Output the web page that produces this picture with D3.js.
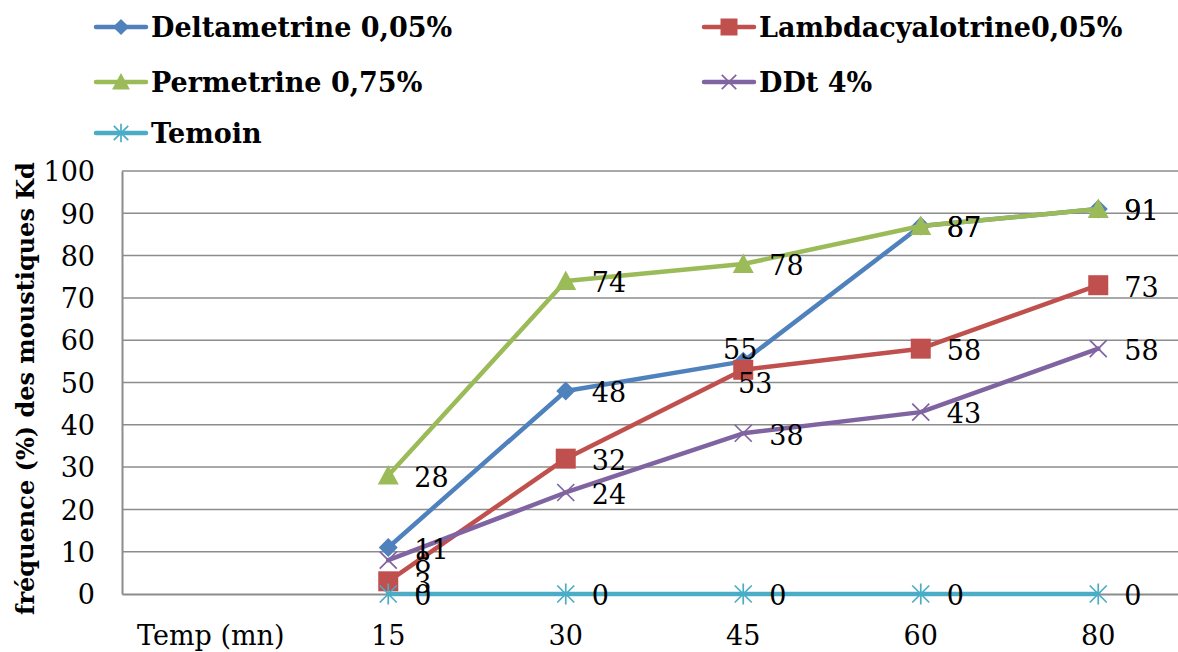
<!DOCTYPE html>
<html>
<head>
<meta charset="utf-8">
<script src="https://cdn.jsdelivr.net/npm/d3@7"></script>
<style>
  html, body { margin: 0; padding: 0; background: #fff; }
  svg { display: block; }
</style>
</head>
<body>
<svg id="chart" width="1178" height="652"></svg>
<script>
// Time points (minutes); the first category slot carries the axis caption
const axisCaption = "Temp (mn)";
const times = ["15", "30", "45", "60", "80"];
const yTicks = [0, 10, 20, 30, 40, 50, 60, 70, 80, 90, 100];

// Knock-down frequency (%) per insecticide
const deltametrine = [11, 48, 55, 87, 91];
const lambdacyalotrine = [3, 32, 53, 58, 73];
const permetrine = [28, 74, 78, 87, 91];
const ddt = [8, 24, 38, 43, 58];
const temoin = [0, 0, 0, 0, 0];

const seriesNames = ["Deltametrine 0,05%", "Lambdacyalotrine0,05%", "Permetrine 0,75%", "DDt 4%", "Temoin"];
const seriesValues = [deltametrine, lambdacyalotrine, permetrine, ddt, temoin];
const seriesColors = ["#4F81BD", "#C0504D", "#9BBB59", "#8064A2", "#4BACC6"];
const seriesMarkers = ["diamond", "square", "triangle", "x", "star"];
// data label placement per point
const labelPlacement = [
  ["right", "right", "above", "right", "right"],
  ["right", "right", "below", "right", "right"],
  ["right", "right", "right", "right", "right"],
  ["right", "right", "right", "right", "right"],
  ["right", "right", "right", "right", "right"]
];

const svg = d3.select("#chart");
const serif = "'DejaVu Serif', serif";
const fontSize = 27;

const plot = { left: 122, right: 1187, top: 171, bottom: 594 };

const x = d3.scaleBand()
  .domain([axisCaption, ...times])
  .range([plot.left, plot.right])
  .paddingInner(0).paddingOuter(0);
const cx = c => x(c) + x.bandwidth() / 2;

const y = d3.scaleLinear().domain([0, 100]).range([plot.bottom, plot.top]);

// gridlines
svg.append("g")
  .selectAll("line")
  .data(yTicks.filter(t => t > 0))
  .join("line")
  .attr("x1", plot.left).attr("x2", plot.right)
  .attr("y1", d => y(d)).attr("y2", d => y(d))
  .attr("stroke", "#8c8c8c").attr("stroke-width", 1.5);

// y axis
const yAxis = svg.append("g")
  .attr("transform", `translate(${plot.left},0)`)
  .call(d3.axisLeft(y).tickValues(yTicks).tickSize(0).tickPadding(27));
yAxis.select(".domain").attr("stroke", "#8c8c8c").attr("stroke-width", 2);
yAxis.selectAll("text")
  .attr("font-family", serif).attr("font-size", fontSize).attr("fill", "#000")
  .attr("dy", "0.36em");

// x axis
const xAxis = svg.append("g")
  .attr("transform", `translate(0,${plot.bottom})`)
  .call(d3.axisBottom(x).tickSize(0).tickPadding(32));
xAxis.select(".domain").attr("stroke", "#8c8c8c").attr("stroke-width", 2);
xAxis.selectAll("text")
  .attr("font-family", serif).attr("font-size", fontSize).attr("fill", "#000");

// y axis title
svg.append("text")
  .attr("transform", `translate(34,${(plot.top + plot.bottom) / 2 + 6}) rotate(-90)`)
  .attr("text-anchor", "middle")
  .attr("font-family", serif).attr("font-weight", "bold").attr("font-size", 24)
  .attr("fill", "#000")
  .text("fréquence (%) des moustiques Kd");

// marker drawing
function drawMarker(g, type, color, px, py, k = 1) {
  if (type === "diamond") {
    const r = 9.5 * k;
    g.append("path").attr("d", `M${px},${py - r}L${px + r},${py}L${px},${py + r}L${px - r},${py}Z`).attr("fill", color);
  } else if (type === "square") {
    const r = 10 * k;
    g.append("rect").attr("x", px - r).attr("y", py - r).attr("width", 2 * r).attr("height", 2 * r).attr("fill", color);
  } else if (type === "triangle") {
    const r = 10.5 * k;
    g.append("path").attr("d", `M${px},${py - r}L${px + r},${py + r * 0.85}L${px - r},${py + r * 0.85}Z`).attr("fill", color);
  } else if (type === "x") {
    const r = 8.5 * k;
    g.append("path").attr("d", `M${px - r},${py - r}L${px + r},${py + r}M${px + r},${py - r}L${px - r},${py + r}`)
      .attr("stroke", color).attr("stroke-width", 1.7).attr("fill", "none");
  } else if (type === "star") {
    const r = 8.5 * k;
    g.append("path").attr("d", `M${px - r},${py - r}L${px + r},${py + r}M${px + r},${py - r}L${px - r},${py + r}M${px},${py - r - 2}L${px},${py + r + 2}`)
      .attr("stroke", color).attr("stroke-width", 1.7).attr("fill", "none");
  }
}

const line = d3.line().x((d, i) => cx(times[i])).y(d => y(d));

seriesValues.forEach((vals, s) => {
  const g = svg.append("g");
  g.append("path").datum(vals)
    .attr("d", line)
    .attr("fill", "none")
    .attr("stroke", seriesColors[s])
    .attr("stroke-width", 4.5)
    .attr("stroke-linejoin", "round")
    .attr("stroke-linecap", "round");
  vals.forEach((v, i) => drawMarker(g, seriesMarkers[s], seriesColors[s], cx(times[i]), y(v)));
});

// data labels
const labels = svg.append("g")
  .attr("font-family", serif).attr("font-size", fontSize).attr("fill", "#000");
seriesValues.forEach((vals, s) => {
  vals.forEach((v, i) => {
    const pos = labelPlacement[s][i];
    const px = cx(times[i]), py = y(v);
    const t = labels.append("text").text(v);
    if (pos === "right") {
      t.attr("x", px + 26).attr("y", py).attr("dy", "0.42em").attr("text-anchor", "start");
    } else if (pos === "above") {
      t.attr("x", px - 3).attr("y", py - 2).attr("text-anchor", "middle");
    } else {
      t.attr("x", px + 12).attr("y", py + 23).attr("text-anchor", "middle");
    }
  });
});

// legend
const legendItems = [
  { s: 0, x: 96, y: 27 }, { s: 1, x: 704, y: 27 },
  { s: 2, x: 96, y: 82 }, { s: 3, x: 704, y: 82 },
  { s: 4, x: 96, y: 133 }
];
const legend = svg.append("g");
legendItems.forEach(it => {
  const g = legend.append("g");
  g.append("line")
    .attr("x1", it.x).attr("x2", it.x + 50)
    .attr("y1", it.y).attr("y2", it.y)
    .attr("stroke", seriesColors[it.s]).attr("stroke-width", 4.5)
    .attr("stroke-linecap", "round");
  drawMarker(g, seriesMarkers[it.s], seriesColors[it.s], it.x + 25, it.y, 0.85);
  g.append("text")
    .attr("x", it.x + 55).attr("y", it.y).attr("dy", "0.36em")
    .attr("font-family", serif).attr("font-weight", "bold").attr("font-size", fontSize)
    .attr("fill", "#000")
    .text(seriesNames[it.s]);
});
</script>
</body>
</html>
